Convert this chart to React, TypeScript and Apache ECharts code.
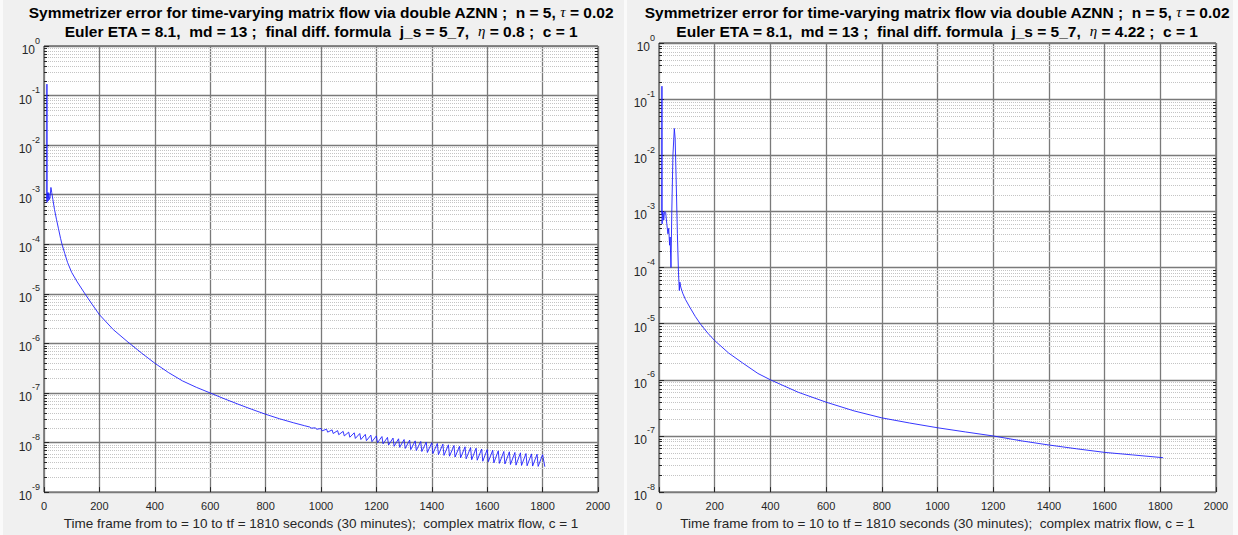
import React, { useEffect, useRef } from "react";
import * as echarts from "echarts";

// ---------------- data ----------------
const titleLine1 = "Symmetrizer error for time-varying matrix flow via double AZNN ;  n = 5, {g|τ} = 0.02";
const leftTitleLine2 = "Euler ETA = 8.1,  md = 13 ;  final diff. formula  j_s = 5_7,  {g|η} = 0.8 ;  c = 1";
const rightTitleLine2 = "Euler ETA = 8.1,  md = 13 ;  final diff. formula  j_s = 5_7,  {g|η} = 4.22 ;  c = 1";
const xAxisTitle = "Time frame from to = 10 to tf = 1810 seconds (30 minutes);  complex matrix flow, c = 1";

const minorMultipliers = [2, 3, 4, 5, 6, 7, 8, 9];
const leftDecades = [-9, -8, -7, -6, -5, -4, -3, -2, -1];
const rightDecades = [-8, -7, -6, -5, -4, -3, -2, -1];

// left panel (eta = 0.8): smooth part
const leftT = [10, 10.5, 11, 12, 13, 14, 15, 16, 17, 18, 20, 22, 25, 28, 32, 38, 45, 52, 60, 65, 75, 85, 100, 120, 148, 175, 200, 250, 300, 350, 400, 450, 500, 550, 600, 650, 700, 750, 800, 850, 900, 940];
const leftV = [8e-4, 0.17, 7e-4, 1.0e-3, 1.1e-3, 9e-4, 7.5e-4, 8.5e-4, 1.1e-3, 1.0e-3, 8e-4, 9e-4, 1.4e-3, 1.1e-3, 8e-4, 5e-4, 3.2e-4, 2.1e-4, 1.3e-4, 1e-4, 6.5e-5, 4.3e-5, 2.7e-5, 1.74e-5, 1e-5, 6e-6, 3.8e-6, 1.9e-6, 1.1e-6, 6.53e-7, 3.98e-7, 2.57e-7, 1.75e-7, 1.3e-7, 1e-7, 7.67e-8, 5.96e-8, 4.68e-8, 3.72e-8, 3.02e-8, 2.51e-8, 2.19e-8];
// left panel: oscillating tail (peaks and sharp dips)
const leftPeakT = [960, 980, 1000, 1020, 1040, 1060, 1080, 1100, 1120, 1140, 1160, 1180, 1200, 1220, 1240, 1260, 1280, 1300, 1320, 1340, 1360, 1380, 1400, 1420, 1440, 1460, 1480, 1500, 1520, 1540, 1560, 1580, 1600, 1620, 1640, 1660, 1680, 1700, 1720, 1740, 1760, 1780, 1800];
const leftPeakV = [2.05e-8, 1.98e-8, 1.92e-8, 1.86e-8, 1.8e-8, 1.74e-8, 1.68e-8, 1.62e-8, 1.57e-8, 1.52e-8, 1.46e-8, 1.41e-8, 1.36e-8, 1.32e-8, 1.27e-8, 1.23e-8, 1.19e-8, 1.15e-8, 1.12e-8, 1.08e-8, 1.05e-8, 1.02e-8, 9.9e-9, 9.6e-9, 9.3e-9, 9.0e-9, 8.7e-9, 8.4e-9, 8.2e-9, 7.9e-9, 7.7e-9, 7.4e-9, 7.2e-9, 7.0e-9, 6.8e-9, 6.6e-9, 6.5e-9, 6.3e-9, 6.2e-9, 6.0e-9, 5.9e-9, 5.8e-9, 5.7e-9];
const leftTroughT = [964, 984, 1004, 1024, 1044, 1064, 1084, 1104, 1124, 1144, 1164, 1184, 1204, 1224, 1244, 1264, 1284, 1304, 1324, 1344, 1364, 1384, 1404, 1424, 1444, 1464, 1484, 1504, 1524, 1544, 1564, 1584, 1604, 1624, 1644, 1664, 1684, 1704, 1724, 1744, 1764, 1784, 1808];
const leftTroughV = [1.95e-8, 1.85e-8, 1.72e-8, 1.62e-8, 1.52e-8, 1.44e-8, 1.36e-8, 1.28e-8, 1.21e-8, 1.15e-8, 1.09e-8, 1.04e-8, 9.9e-9, 9.4e-9, 8.9e-9, 8.4e-9, 8.0e-9, 7.6e-9, 7.2e-9, 6.9e-9, 6.6e-9, 6.3e-9, 6.0e-9, 5.7e-9, 5.5e-9, 5.3e-9, 5.1e-9, 4.9e-9, 4.7e-9, 4.5e-9, 4.4e-9, 4.2e-9, 4.1e-9, 3.9e-9, 3.8e-9, 3.7e-9, 3.6e-9, 3.5e-9, 3.45e-9, 3.4e-9, 3.35e-9, 3.3e-9, 3.25e-9];

// right panel (eta = 4.22)
const rightT = [10, 10.5, 11, 13, 15, 17, 19, 21, 24, 28, 32, 35, 38, 40, 43, 46, 50, 55, 58, 62, 66, 70, 73, 75, 78, 85, 95, 111, 130, 148, 175, 200, 250, 300, 355, 400, 500, 600, 700, 800, 900, 1000, 1100, 1200, 1300, 1400, 1500, 1600, 1700, 1810];
const rightV = [9e-4, 0.17, 6e-4, 1e-3, 9.5e-4, 7e-4, 9e-4, 1e-3, 9.5e-4, 6e-4, 4e-4, 5e-4, 2.5e-4, 3.5e-4, 1e-4, 1e-3, 1e-2, 3e-2, 2e-2, 3e-3, 4e-4, 8e-5, 3.9e-5, 5.5e-5, 4.5e-5, 3.5e-5, 2.7e-5, 1.95e-5, 1.35e-5, 1e-5, 6.8e-6, 5e-6, 3e-6, 2e-6, 1.3e-6, 1e-6, 6e-7, 4e-7, 2.8e-7, 2.1e-7, 1.7e-7, 1.4e-7, 1.18e-7, 1e-7, 8.2e-8, 6.9e-8, 5.9e-8, 5.1e-8, 4.6e-8, 4.1e-8];

// ---------------- helpers ----------------
const FONT = "'Liberation Sans', Arial, Helvetica, sans-serif";
const TXT = "#262626";

function buildLeft() {
  const pts: [number, number][] = leftT.map((t, i) => [t, leftV[i]]);
  leftPeakT.forEach((t, i) => {
    pts.push([t, leftPeakV[i]]);
    pts.push([leftTroughT[i], leftTroughV[i]]);
  });
  return pts;
}
function buildRight() {
  return rightT.map((t, i) => [t, rightV[i]]);
}
function minorValues(decades: number[]) {
  const out: number[][] = [];
  decades.forEach((d) => minorMultipliers.forEach((m) => out.push([0, m * Math.pow(10, d)])));
  return out;
}

function yLabel(v: number) {
  const e = Math.round(Math.log10(v));
  return "{b|10}{s|" + e + "}";
}

function minorRender(params: any, api: any) {
  const cs = params.coordSys;
  const y = Math.round(api.coord([0, api.value(1)])[1]) + 0.5;
  return {
    type: "group",
    children: [
      {
        type: "line",
        shape: { x1: cs.x, y1: y, x2: cs.x + cs.width, y2: y },
        style: { stroke: "#c4c4c4", lineWidth: 1, lineDash: [1, 1] },
        silent: true,
      },
      {
        type: "line",
        shape: { x1: cs.x, y1: y, x2: cs.x + 3, y2: y },
        style: { stroke: TXT, lineWidth: 1 },
        silent: true,
      },
      {
        type: "line",
        shape: { x1: cs.x + cs.width - 3, y1: y, x2: cs.x + cs.width, y2: y },
        style: { stroke: TXT, lineWidth: 1 },
        silent: true,
      },
    ],
  };
}

function panel(idx: number, decades: number[], minY: number) {
  const xAxis = {
    type: "value",
    gridIndex: idx,
    min: 0,
    max: 2000,
    interval: 200,
    axisLine: { show: false },
    axisTick: { show: true, inside: true, length: 5, lineStyle: { color: TXT } },
    axisLabel: { color: TXT, fontSize: 11, fontFamily: FONT, margin: 8, formatter: (v: number) => String(v) },
    splitLine: { show: true, lineStyle: { color: "#7a7a7a", width: 1.3 } },
    name: xAxisTitle,
    nameLocation: "middle",
    nameGap: 12,
    nameTextStyle: { color: TXT, fontSize: 13.5, fontFamily: FONT, verticalAlign: "top" },
  };
  const yAxis = {
    type: "log",
    logBase: 10,
    gridIndex: idx,
    min: minY,
    max: 1,
    splitNumber: 10,
    axisLine: { show: false },
    axisTick: { show: true, inside: true, length: 5, lineStyle: { color: TXT } },
    axisLabel: {
      margin: 4,
      formatter: yLabel,
      rich: {
        b: { fontSize: 12, color: TXT, fontFamily: FONT, lineHeight: 20, verticalAlign: "bottom" },
        s: { fontSize: 9, color: TXT, fontFamily: FONT, lineHeight: 10, verticalAlign: "top" },
      },
    },
    splitLine: { show: true, lineStyle: { color: "#7a7a7a", width: 1.3 } },
  };
  const gridSeries = {
    type: "custom",
    xAxisIndex: idx,
    yAxisIndex: idx,
    data: minorValues(decades),
    encode: { x: 0, y: 1 },
    renderItem: minorRender,
    z: 1,
    silent: true,
    clip: false,
  };
  return { xAxis, yAxis, gridSeries };
}

export default function App() {
  const ref = useRef<HTMLDivElement>(null);
  useEffect(() => {
    document.body.style.margin = "0";
    const chart = echarts.init(ref.current!, null, { renderer: "svg" });
    const L = panel(0, leftDecades, 1e-9);
    const R = panel(1, rightDecades, 1e-8);
    const titleStyle = (text: string) => ({
      text,
      fill: "#000",
      font: "bold 15.5px " + FONT,
      align: "center",
      verticalAlign: "middle",
      rich: {
        g: { fontStyle: "italic", fontWeight: "normal", fontFamily: "'Liberation Serif', 'DejaVu Serif', serif", fontSize: 15, fill: "#000" },
      },
    });
    chart.setOption({
      animation: false,
      backgroundColor: "#f0f0f0",
      graphic: [
        { type: "rect", shape: { x: 0, y: 0, width: 3, height: 535 }, style: { fill: "#fafafa" }, silent: true },
        { type: "rect", shape: { x: 624, y: 0, width: 3, height: 535 }, style: { fill: "#fafafa" }, silent: true },
        { type: "rect", shape: { x: 1233, y: 0, width: 5, height: 535 }, style: { fill: "#fafafa" }, silent: true },
        { type: "text", x: 321, y: 12, style: titleStyle(titleLine1), silent: true },
        { type: "text", x: 321, y: 31, style: titleStyle(leftTitleLine2), silent: true },
        { type: "text", x: 937, y: 12, style: titleStyle(titleLine1), silent: true },
        { type: "text", x: 937, y: 31, style: titleStyle(rightTitleLine2), silent: true },
      ],
      grid: [
        { left: 44, right: 640, top: 46, bottom: 37, show: true, backgroundColor: "#fff", borderColor: TXT, borderWidth: 1 },
        { left: 659, right: 22, top: 43, bottom: 38, show: true, backgroundColor: "#fff", borderColor: TXT, borderWidth: 1 },
      ],
      xAxis: [L.xAxis, R.xAxis],
      yAxis: [L.yAxis, R.yAxis],
      series: [
        L.gridSeries,
        R.gridSeries,
        {
          type: "line",
          xAxisIndex: 0,
          yAxisIndex: 0,
          data: buildLeft(),
          showSymbol: false,
          symbol: "none",
          z: 3,
          lineStyle: { color: "#2020ff", width: 0.9 },
        },
        {
          type: "line",
          xAxisIndex: 1,
          yAxisIndex: 1,
          data: buildRight(),
          showSymbol: false,
          symbol: "none",
          z: 3,
          lineStyle: { color: "#2020ff", width: 0.9 },
        },
      ],
    });
    return () => chart.dispose();
  }, []);
  return <div ref={ref} style={{ width: 1238, height: 535 }} />;
}
